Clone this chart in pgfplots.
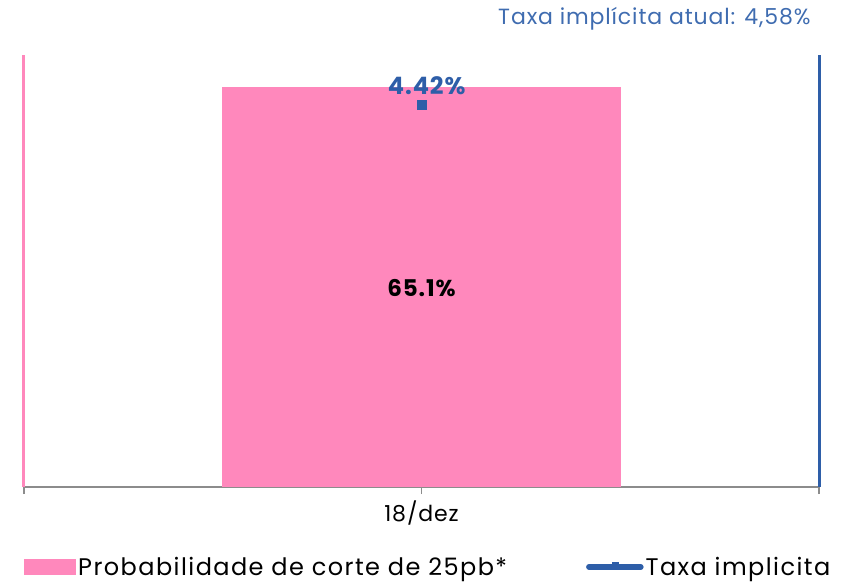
\documentclass[border=0pt]{standalone}
\usepackage{pgfplots}
\pgfplotsset{compat=1.18}
\usepackage{fontspec}
\setmainfont{Poppins}[LetterSpace=4]
\definecolor{rosa}{HTML}{FF88BC}
\definecolor{azul}{HTML}{2E5EA8}
\definecolor{azulclaro}{HTML}{3F6CB0}
\definecolor{eixo}{HTML}{8C8C8C}
\begin{document}
\begin{tikzpicture}
\begin{axis}[
  at={(0,0)}, anchor=south west,
  scale only axis, width=795pt, height=432pt, clip=false,
  xmin=0, xmax=2, ymin=0, ymax=70.3,
  axis x line*=bottom, axis y line=none,
  x axis line style={eixo, line width=1.2pt, -},
  ytick=\empty,
  xtick={0,1,2}, xticklabels={,18/dez,},
  tick align=outside, major tick length=7pt,
  x tick style={eixo, line width=1.2pt},
  xticklabel style={font=\fontsize{22}{22}\selectfont, text=black, yshift=-3pt},
  ybar, bar width=1.004,
  legend style={at={(0,-0.185)}, anchor=west, draw=none, fill=none,
    inner sep=0pt, nodes={inner xsep=2pt},
    legend columns=2, font=\fontsize{24}{24}\selectfont\addfontfeatures{LetterSpace=6},
    /tikz/every even column/.style={column sep=77pt}},
  legend cell align=left,
]
\addplot[fill=rosa, draw=none,
  legend image code/.code={\fill[rosa] (0pt,-8pt) rectangle (52pt,8pt);}]
  coordinates {(1,65.1)};
\addlegendentry{Probabilidade de corte de 25pb*}
\addlegendimage{legend image code/.code={
  \draw[azul, line width=5.5pt, line cap=round] (3pt,0pt) -- (55pt,0pt);
  \fill[azul] (26pt,0pt) rectangle (32pt,4.5pt);}}
\addlegendentry{Taxa implicita}
\draw[rosa, line width=3pt] (rel axis cs:0,0) -- (rel axis cs:0,1);
\node[font=\bfseries\fontsize{23}{23}\selectfont, text=black] at (axis cs:1,32.4) {65.1\%};
\end{axis}
\begin{axis}[
  at={(0,0)}, anchor=south west,
  scale only axis, width=795pt, height=432pt, clip=false,
  xmin=0, xmax=2, ymin=0, ymax=5,
  axis x line=none, axis y line=none,
  ytick=\empty,
]
\addplot[only marks, mark=square*, mark size=4.5pt, azul] coordinates {(1,4.42)};
\draw[azul, line width=3pt] (rel axis cs:1,0) -- (rel axis cs:1,1);
\node[font=\bfseries\fontsize{24}{24}\selectfont, text=azul] at (axis cs:1.013,4.65) {4.42\%};
\end{axis}
\node[anchor=east, text=azulclaro, font=\fontsize{22}{22}\selectfont] at (790pt,468pt) {Taxa implícita atual: 4,58\%};
\pgfresetboundingbox
\path (-24pt,-96pt) rectangle (821pt,487pt);
\end{tikzpicture}
\end{document}
